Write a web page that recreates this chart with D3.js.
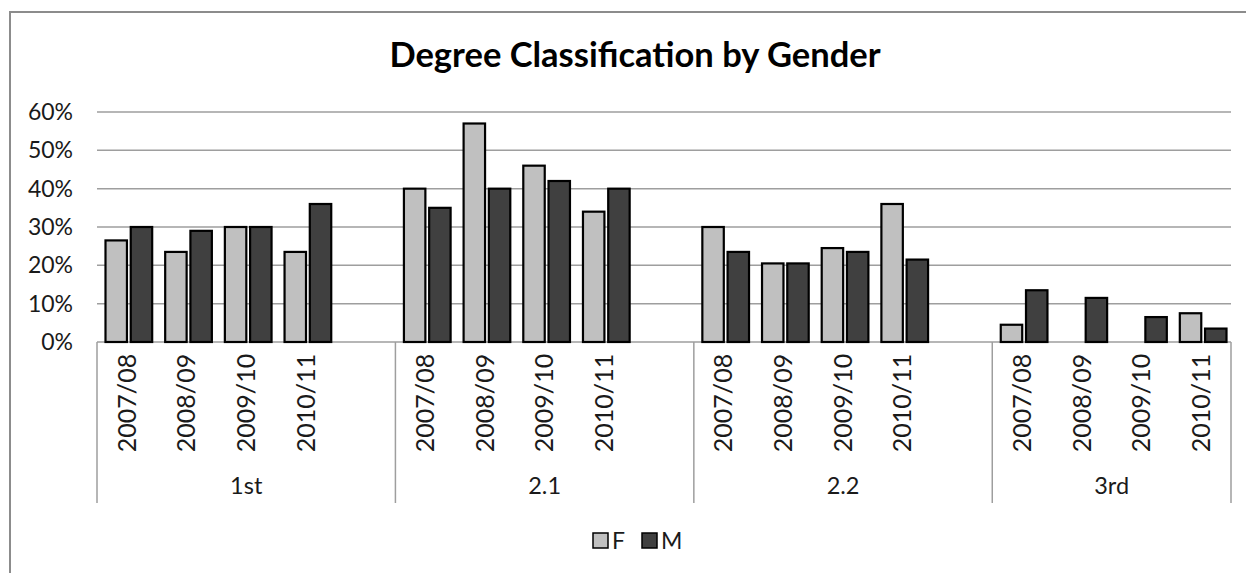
<!DOCTYPE html>
<html>
<head>
<meta charset="utf-8">
<script src="https://cdn.jsdelivr.net/npm/d3@7"></script>
<style>
  body { margin: 0; background: #fff; }
  svg text { font-family: Lato, "Open Sans", sans-serif; fill: #1a1a1a; }
</style>
</head>
<body>
<div class="chartWrapper"></div>
<script>
var classes = ["1st", "2.1", "2.2", "3rd"]
var years = ["2007/08", "2008/09", "2009/10", "2010/11"]
var series = ["F", "M"]
// percentage of graduates, one row per class, one value per year
var femaleVals = [
    [26.5, 23.5, 30, 23.5],
    [40, 57, 46, 34],
    [30, 20.5, 24.5, 36],
    [4.5, 0, 0, 7.5]
]
var maleVals = [
    [30, 29, 30, 36],
    [35, 40, 42, 40],
    [23.5, 20.5, 23.5, 21.5],
    [13.5, 11.5, 6.5, 3.5]
]
var yTicks = [0, 10, 20, 30, 40, 50, 60]

var colors = { F: "#c0c0c0", M: "#404040" }

renderChart()

function renderChart() {
    var width = 1246, height = 573
    var svg = d3.select('.chartWrapper').append('svg')
        .attr('width', width)
        .attr('height', height)

    // outer frame (cut off on the right and bottom like the source picture)
    svg.append('rect')
        .attr('x', 10).attr('y', 12)
        .attr('width', 1260).attr('height', 600)
        .attr('fill', 'none')
        .attr('stroke', '#8c8c8c')
        .attr('stroke-width', 2)

    svg.append('text')
        .attr('x', 635).attr('y', 67)
        .attr('text-anchor', 'middle')
        .style('font-size', '34.5px')
        .style('font-weight', 'bold')
        .style('fill', '#000')
        .text('Degree Classification by Gender')

    // slots: 4 years per class, with one blank slot between classes
    var slots = []
    classes.forEach(function(c, ci) {
        years.forEach(function(y) { slots.push(c + '|' + y) })
        if (ci < classes.length - 1) slots.push(c + '|gap')
    })

    var x = d3.scaleBand().domain(slots).range([97, 1231]).padding(0)
    var xInner = d3.scaleBand().domain(series)
        .range([8.5, x.bandwidth() - 4.5])
        .paddingInner(0.15)
    var y = d3.scaleLinear().domain([0, 60]).range([342, 112])

    // gridlines + tick labels
    var grid = svg.append('g')
    grid.selectAll('line')
        .data(yTicks)
        .enter().append('line')
        .attr('x1', 97).attr('x2', 1231)
        .attr('y1', function(d) { return y(d) })
        .attr('y2', function(d) { return y(d) })
        .attr('stroke', '#9e9e9e')
        .attr('stroke-width', 1.5)
    grid.selectAll('text')
        .data(yTicks)
        .enter().append('text')
        .attr('x', 73)
        .attr('y', function(d) { return y(d) })
        .attr('dy', '0.35em')
        .attr('text-anchor', 'end')
        .style('font-size', '23px')
        .text(function(d) { return d + '%' })

    // bars
    var rows = []
    classes.forEach(function(c, ci) {
        years.forEach(function(yr, yi) {
            rows.push({ key: c + '|' + yr, s: 'F', v: femaleVals[ci][yi] })
            rows.push({ key: c + '|' + yr, s: 'M', v: maleVals[ci][yi] })
        })
    })
    svg.append('g').selectAll('rect')
        .data(rows.filter(function(d) { return d.v > 0 }))
        .enter().append('rect')
        .attr('x', function(d) { return x(d.key) + xInner(d.s) })
        .attr('y', function(d) { return y(d.v) })
        .attr('width', xInner.bandwidth())
        .attr('height', function(d) { return y(0) - y(d.v) })
        .attr('fill', function(d) { return colors[d.s] })
        .attr('stroke', '#000')
        .attr('stroke-width', 2.2)

    // multi level category axis
    var axis = svg.append('g')
    var bounds = classes.map(function(c) { return x(c + '|' + years[0]) })
    bounds.push(1231)
    axis.selectAll('line.sep')
        .data(bounds)
        .enter().append('line')
        .attr('class', 'sep')
        .attr('x1', function(d) { return d }).attr('x2', function(d) { return d })
        .attr('y1', 342).attr('y2', 503)
        .attr('stroke', '#9e9e9e')
        .attr('stroke-width', 1.5)

    var yearLabels = []
    classes.forEach(function(c) {
        years.forEach(function(yr) { yearLabels.push({ key: c + '|' + yr, t: yr }) })
    })
    axis.selectAll('text.yr')
        .data(yearLabels)
        .enter().append('text')
        .attr('class', 'yr')
        .attr('transform', function(d) {
            return 'translate(' + (x(d.key) + x.bandwidth() / 2) + ',403) rotate(-90)'
        })
        .attr('text-anchor', 'middle')
        .attr('dy', '0.35em')
        .style('font-size', '25px')
        .text(function(d) { return d.t })

    axis.selectAll('text.cls')
        .data(classes)
        .enter().append('text')
        .attr('class', 'cls')
        .attr('x', function(d, i) { return (bounds[i] + bounds[i + 1]) / 2 })
        .attr('y', 494)
        .attr('text-anchor', 'middle')
        .style('font-size', '23.5px')
        .text(function(d) { return d })

    // legend
    var legendX = { F: 593, M: 642 }
    var legend = svg.append('g').selectAll('g')
        .data(series)
        .enter().append('g')
        .attr('transform', function(d) { return 'translate(' + legendX[d] + ',533)' })
    legend.append('rect')
        .attr('width', 15).attr('height', 15)
        .attr('fill', function(d) { return colors[d] })
        .attr('stroke', '#000')
        .attr('stroke-width', 1.5)
    legend.append('text')
        .attr('x', 19).attr('y', 15.5)
        .style('font-size', '23px')
        .text(function(d) { return d })
}
</script>
</body>
</html>
